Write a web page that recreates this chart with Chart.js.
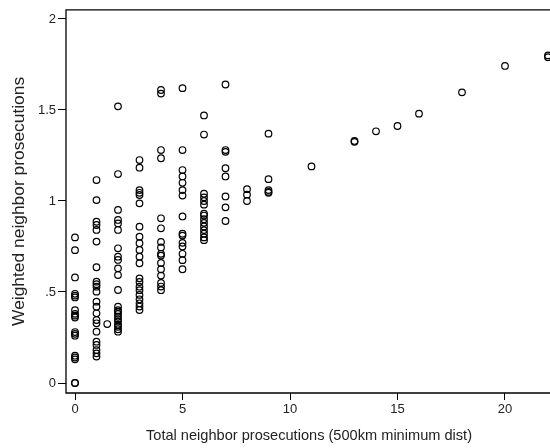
<!DOCTYPE html>
<html>
<head>
<meta charset="utf-8">
<script src="https://cdn.jsdelivr.net/npm/chart.js@4/dist/chart.umd.min.js"></script>
<style>
  html, body { margin: 0; padding: 0; background: #fff; overflow: hidden; }
  canvas { display: block; }
</style>
</head>
<body>
<canvas id="scatter" width="552" height="448"></canvas>
<script>
// values, one list per x position
const col0 = [0.80, 0.73, 0.58, 0.49, 0.48, 0.47, 0.40, 0.38, 0.37, 0.36, 0.28, 0.27, 0.26, 0.15, 0.14, 0.13, 0.0, 0.0];
const col1 = [1.115, 1.005, 0.886, 0.868, 0.841, 0.777, 0.636, 0.557, 0.543, 0.529, 0.502, 0.447, 0.419, 0.383, 0.346, 0.328, 0.282, 0.227, 0.209, 0.181, 0.163, 0.145];
const col1half = [0.324];
const col2 = [1.52, 1.148, 0.951, 0.896, 0.877, 0.841, 0.740, 0.694, 0.676, 0.630, 0.593, 0.511, 0.419, 0.40, 0.392, 0.38, 0.364, 0.35, 0.337, 0.32, 0.309, 0.295, 0.282];
const col3 = [1.225, 1.183, 1.06, 1.045, 1.033, 0.987, 0.859, 0.804, 0.768, 0.731, 0.694, 0.658, 0.575, 0.555, 0.529, 0.51, 0.484, 0.46, 0.438, 0.42, 0.401];
const col4 = [1.61, 1.59, 1.28, 1.235, 0.905, 0.85, 0.775, 0.745, 0.71, 0.70, 0.66, 0.625, 0.59, 0.55, 0.53, 0.51];
const col5 = [1.62, 1.28, 1.17, 1.135, 1.10, 1.06, 1.03, 0.915, 0.82, 0.81, 0.77, 0.75, 0.71, 0.675, 0.625];
const col6 = [1.47, 1.365, 1.04, 1.02, 1.00, 0.98, 0.93, 0.92, 0.90, 0.88, 0.86, 0.84, 0.82, 0.80, 0.785];
const col7 = [1.64, 1.28, 1.27, 1.18, 1.135, 1.025, 0.965, 0.89];
const col8 = [1.065, 1.035, 1.00];
const col9 = [1.37, 1.12, 1.06, 1.05, 1.045];
const tailX = [11, 13, 13, 14, 15, 16, 18, 20, 22, 22];
const tailY = [1.19, 1.33, 1.325, 1.383, 1.412, 1.48, 1.597, 1.742, 1.80, 1.79];

const xTicks = [0, 5, 10, 15, 20];
const yTicks = [0, 0.5, 1, 1.5, 2];
const yTickLabels = ["0", ".5", "1", "1.5", "2"];

const columns = [[0, col0], [1, col1], [1.5, col1half], [2, col2], [3, col3], [4, col4],
                 [5, col5], [6, col6], [7, col7], [8, col8], [9, col9]];
const points = [];
columns.forEach(([x, ys]) => ys.forEach(y => points.push({x: x, y: y})));
tailX.forEach((x, i) => points.push({x: x, y: tailY[i]}));

const txt = "#222";
const sans = "'Liberation Sans', Arial, sans-serif";
const tickFont = {family: sans, size: 13};
const xTitleFont = {family: sans, size: 14.6};
const yTitleFont = {family: sans, size: 17.4};

// where the reference puts x=0 / y=0 and how many px per unit
const px0 = 75, pxPerX = 21.5, py0 = 383, pxPerY = 182;

// top, left and bottom of the plot box; the right side runs off the page
const frame = {
    id: "frame",
    afterDraw(chart) {
        const a = chart.chartArea, c = chart.ctx;
        c.save();
        c.strokeStyle = "#000";
        c.lineWidth = 1.3;
        c.beginPath();
        c.moveTo(chart.width, a.top);
        c.lineTo(a.left, a.top);
        c.lineTo(a.left, a.bottom);
        c.lineTo(chart.width, a.bottom);
        c.stroke();
        c.restore();
    }
};

const chart = new Chart(document.getElementById("scatter"), {
    type: "scatter",
    data: {
        datasets: [{
            data: points,
            pointStyle: "circle",
            pointRadius: 3.3,
            pointBorderWidth: 1.2,
            pointBorderColor: "#000",
            pointBackgroundColor: "rgba(0,0,0,0)"
        }]
    },
    options: {
        responsive: false,
        animation: false,
        layout: {autoPadding: false, padding: {top: 9.5, right: 0, left: 0, bottom: 0}},
        plugins: {legend: {display: false}, tooltip: {enabled: false}},
        scales: {
            x: {
                type: "linear",
                min: -0.42,
                max: 22.2,
                afterBuildTicks: s => { s.ticks = xTicks.map(v => ({value: v})); },
                afterFit: s => { s.height = 55; },
                grid: {display: true, drawOnChartArea: false, drawTicks: true, tickLength: 7, color: "#000", lineWidth: 1},
                border: {display: false},
                ticks: {color: txt, font: tickFont, padding: 2, maxRotation: 0},
                title: {display: true, text: "Total neighbor prosecutions (500km minimum dist)",
                        color: txt, font: xTitleFont, padding: {top: 2, bottom: 3}}
            },
            y: {
                type: "linear",
                min: -0.055,
                max: 2.052,
                afterBuildTicks: s => { s.ticks = yTicks.map(v => ({value: v})); },
                afterFit: s => { s.width = 66; },
                grid: {display: true, drawOnChartArea: false, drawTicks: true, tickLength: 8, color: "#000", lineWidth: 1},
                border: {display: false},
                ticks: {color: txt, font: tickFont, padding: 2,
                        callback: v => yTickLabels[yTicks.indexOf(v)]},
                title: {display: true, text: "Weighted neighbor prosecutions",
                        color: txt, font: yTitleFont, padding: {top: 9, bottom: 0}}
            }
        }
    },
    plugins: [frame]
});

// line the axes up with the reference's tick positions
const a = chart.chartArea;
chart.options.scales.x.min = (a.left - px0) / pxPerX;
chart.options.scales.x.max = (a.right - px0) / pxPerX;
chart.options.scales.y.min = (py0 - a.bottom) / pxPerY;
chart.options.scales.y.max = (py0 - a.top) / pxPerY;
chart.update();
</script>
</body>
</html>
